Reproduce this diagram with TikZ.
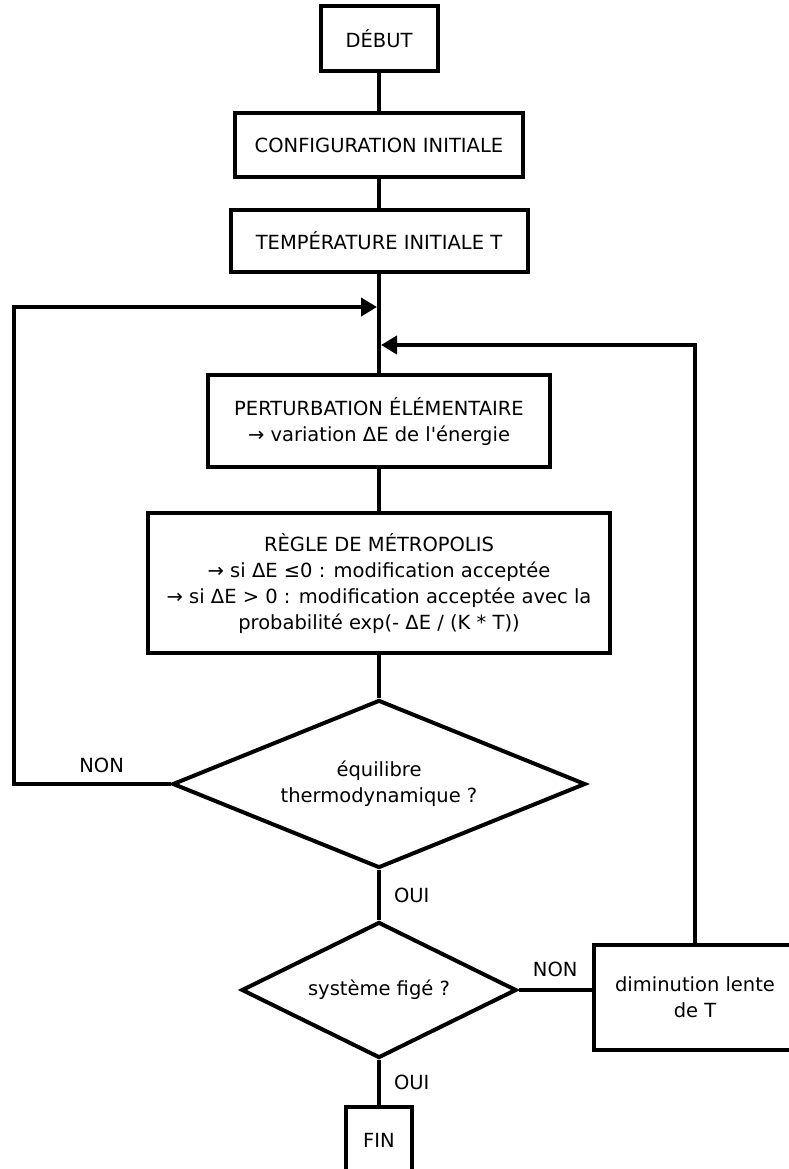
\documentclass[tikz,border=0pt]{standalone}
\usepackage{fontspec}
\setmainfont{DejaVu Sans}
\usetikzlibrary{shapes.geometric,arrows.meta}
\begin{document}
\begin{tikzpicture}[x=1pt,y=1pt,
  txt/.style={font=\fontsize{19.5}{26}\selectfont},
  box/.style={draw, line width=4pt, inner sep=0pt, align=center, txt},
  dia/.style={draw, diamond, line width=4pt, inner sep=0pt, align=center, txt},
  conn/.style={line width=4pt},
  arr/.style={conn, -{Triangle[length=16pt,width=18pt]}},
  lab/.style={inner sep=0pt, txt}]
\useasboundingbox (0,0) rectangle (789,-1169);
\clip (0,0) rectangle (789,-1169);

\node[box, minimum width=117, minimum height=65] (debut) at (379,-39) {DÉBUT};
\node[box, minimum width=288, minimum height=64] (config) at (379,-145) {CONFIGURATION INITIALE};
\node[box, minimum width=297, minimum height=62] (temp) at (379,-241) {TEMPÉRATURE INITIALE T};
\node[box, minimum width=342, minimum height=92] (pert) at (379,-421) {PERTURBATION ÉLÉMENTAIRE\\→ variation ΔE de l\textquotesingle énergie};
\node[box, minimum width=462, minimum height=140] (metro) at (379,-583) {RÈGLE DE MÉTROPOLIS\\→ si ΔE ≤0 : modification acceptée\\→ si ΔE > 0 : modification acceptée avec la\\probabilité exp(- ΔE / (K * T))};
\node[dia, aspect=2.46, minimum width=413, minimum height=168] (d1) at (379,-784) {équilibre\\thermodynamique ?};
\node[dia, aspect=2.02, minimum width=275, minimum height=136] (d2) at (379,-990) {système figé ?};
\node[box, minimum width=202, minimum height=105] (dimin) at (695,-997) {diminution lente\\de T};
\node[box, minimum width=66, minimum height=66] (fin) at (379,-1140) {FIN};

\coordinate (j1) at (377,-307);
\coordinate (j2) at (381,-345);

\draw[conn] (debut.south) -- (config.north);
\draw[conn] (config.south) -- (temp.north);
\draw[conn] (temp.south) -- (pert.north);
\draw[conn] (pert.south) -- (metro.north);
\draw[conn] (metro.south) -- (d1.north);
\draw[conn] (d1.south) -- node[lab, anchor=west, xshift=13pt] {OUI} (d2.north);
\draw[conn] (d2.east) -- node[lab, anchor=south, yshift=11pt] {NON} (d2.east -| dimin.west);
\draw[conn] (d2.south) -- node[lab, anchor=west, xshift=13pt] {OUI} (fin.north);
\draw[arr] (d1.west) -- node[lab, pos=0.44, anchor=south, yshift=9pt] {NON} (14,-784) |- (j1);
\draw[arr] (dimin.north) |- (j2);
\end{tikzpicture}
\end{document}
